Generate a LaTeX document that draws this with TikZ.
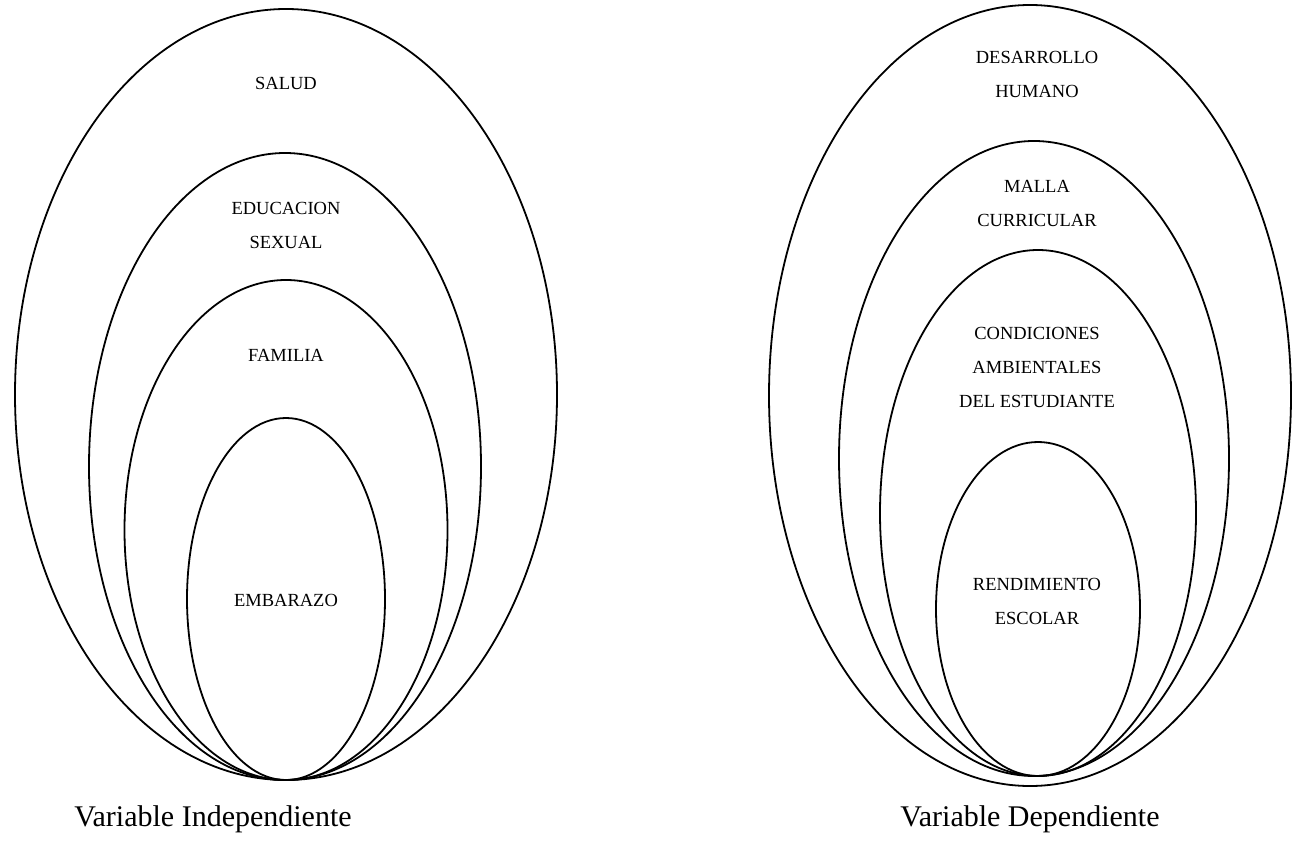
\documentclass[tikz,border=0pt]{standalone}
\usepackage{fontspec}
\setmainfont{Liberation Serif}
\begin{document}
\begin{tikzpicture}[x=1pt,y=-1pt,
  ring/.style={draw=black,line width=1.8pt},
  lab/.style={font=\fontsize{18.5}{34}\selectfont,align=center,inner sep=0pt},
  captiontext/.style={font=\fontsize{30}{34}\selectfont,inner sep=0pt,anchor=base}]
\useasboundingbox (0,0) rectangle (1292,843);
% left set
\draw[ring] (286,394.5) ellipse [x radius=271,y radius=385.5];
\draw[ring] (285,466.5) ellipse [x radius=196,y radius=313.5];
\draw[ring] (286,530) ellipse [x radius=161.5,y radius=250];
\draw[ring] (286,599) ellipse [x radius=99,y radius=181];
\node[lab] (salud) at (286,83) {SALUD};
\node[lab] (edu) at (286,225) {EDUCACION\\SEXUAL};
\node[lab] (fam) at (286,355) {FAMILIA};
\node[lab] (emb) at (286,600) {EMBARAZO};
\node[captiontext] (vi) at (213,826) {Variable Independiente};
% right set
\draw[ring] (1030,395.5) ellipse [x radius=261,y radius=390.5];
\draw[ring] (1034,458.5) ellipse [x radius=195,y radius=317.5];
\draw[ring] (1038,513) ellipse [x radius=158,y radius=263];
\draw[ring] (1038,609) ellipse [x radius=102,y radius=167];
\node[lab] (des) at (1037,74) {DESARROLLO\\HUMANO};
\node[lab] (mal) at (1037,203) {MALLA\\CURRICULAR};
\node[lab] (con) at (1037,367) {CONDICIONES\\AMBIENTALES\\DEL ESTUDIANTE};
\node[lab] (ren) at (1037,601) {RENDIMIENTO\\ESCOLAR};
\node[captiontext] (vd) at (1030,826) {Variable Dependiente};
\end{tikzpicture}
\end{document}
